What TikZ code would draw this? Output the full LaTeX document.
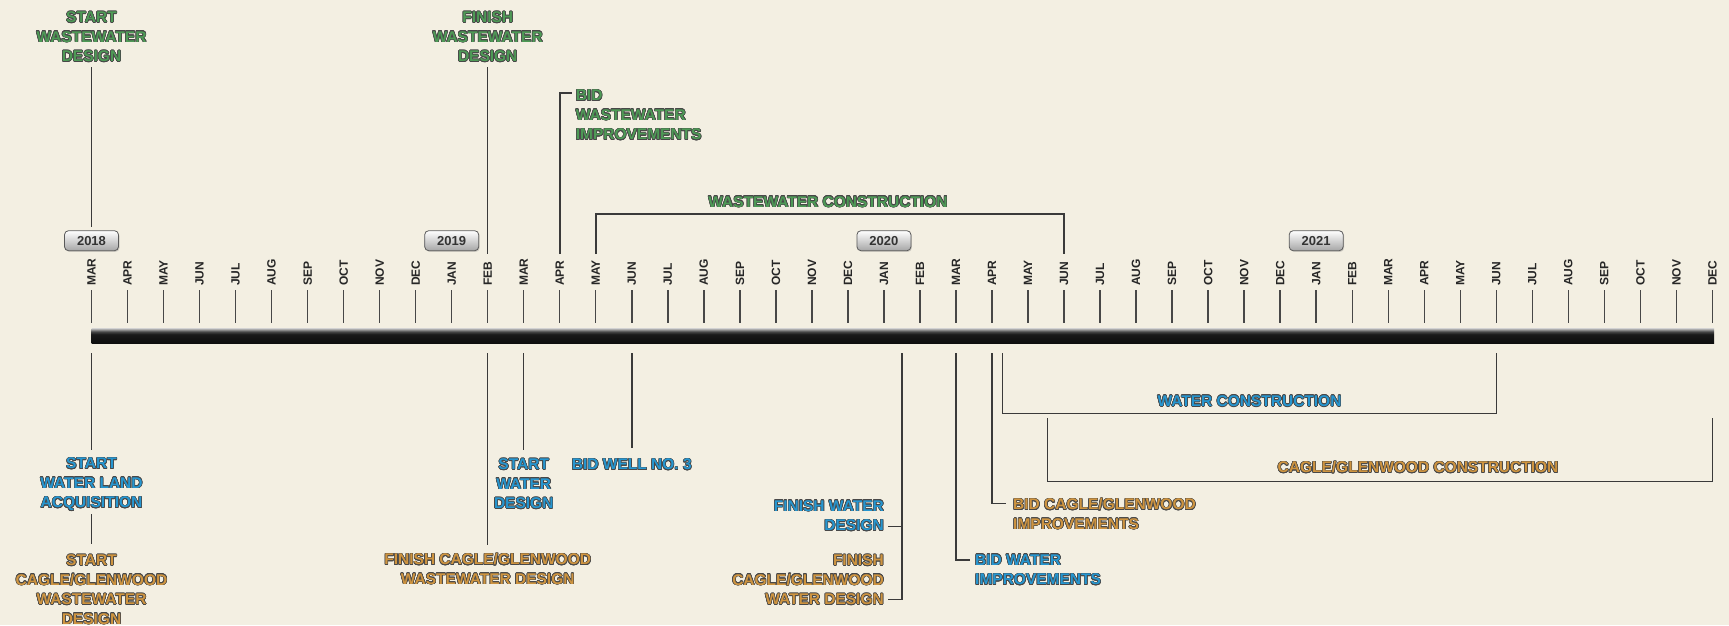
\documentclass[tikz,border=0pt]{standalone}
\usepackage{fontspec}
\setmainfont{Liberation Sans}
\usepackage[copies]{contour}
\usetikzlibrary{positioning,calc,shadows}

\definecolor{bgcream}{RGB}{243,239,226}
\definecolor{wwgreen}{RGB}{78,154,86}
\definecolor{wtblue}{RGB}{38,150,208}
\definecolor{cgorange}{RGB}{206,148,64}
\definecolor{linegray}{RGB}{58,58,58}
\definecolor{edgegray}{RGB}{72,72,72}

\contourlength{0.55pt}
\newcommand{\outl}[1]{\contour{edgegray}{#1}}

\pgfdeclareverticalshading{barshade}{100bp}{color(0bp)=(black!95); color(25bp)=(black!95); color(55bp)=(black!90); color(64bp)=(black!72); color(75bp)=(black!22); color(100bp)=(black!22)}

\begin{document}
\begin{tikzpicture}[
  x=1pt, y=-1pt,
  month/.style={rotate=90, anchor=west, inner sep=0pt, font=\fontsize{12}{13}\selectfont\bfseries, text=black!85},
  mtick/.style={draw=black!72, line width=1.4pt},
  yearbadge/.style={draw=black!65, line width=0.8pt, rounded corners=4pt, top color=white, bottom color=black!35,
    minimum width=54pt, minimum height=20pt, inner sep=0pt, font=\fontsize{13}{15}\selectfont\bfseries, text=black!80,
    drop shadow={shadow xshift=1pt, shadow yshift=-1.2pt, opacity=0.3}},
  ms/.style={inner sep=0pt, align=center, font=\fontsize{15.5}{19.5}\selectfont\bfseries},
  ww/.style={ms, text=wwgreen},
  wt/.style={ms, text=wtblue},
  cg/.style={ms, text=cgorange},
  conn/.style={draw=linegray, line width=1.5pt}
]
  \useasboundingbox (0,0) rectangle (1729,625);
  \fill[bgcream] (0,0) rectangle (1729,625);

  \foreach \mon [count=\i from 0] in {MAR,APR,MAY,JUN,JUL,AUG,SEP,OCT,NOV,DEC,
      JAN,FEB,MAR,APR,MAY,JUN,JUL,AUG,SEP,OCT,NOV,DEC,
      JAN,FEB,MAR,APR,MAY,JUN,JUL,AUG,SEP,OCT,NOV,DEC,
      JAN,FEB,MAR,APR,MAY,JUN,JUL,AUG,SEP,OCT,NOV,DEC} {
    \pgfmathsetmacro\mx{91.5+36.02*\i}
    \coordinate (m\i) at (\mx,0);
    \coordinate (u\i) at (\mx,254);
    \coordinate (d\i) at (\mx,353);
    \node[month] (ml\i) at (\mx,286) {\mon};
    \draw[mtick] ([yshift=-4pt]ml\i.west) -- ++(0,33);
  }

  \shade[shading=barshade] (m0 |- 0,328.3) rectangle (1714,343.3);

  \node[yearbadge] (yr2018) at (m0 |- 0,240.7) {2018};
  \node[yearbadge] (yr2019) at (m10 |- 0,240.7) {2019};
  \node[yearbadge] (yr2020) at (m22 |- 0,240.7) {2020};
  \node[yearbadge] (yr2021) at (m34 |- 0,240.7) {2021};

  \node[ww, anchor=north] (swwd) at (m0 |- 0,11.5) {\outl{START}\\\outl{WASTEWATER}\\\outl{DESIGN}};
  \node[ww, anchor=north] (fwwd) at (m11 |- 0,11.5) {\outl{FINISH}\\\outl{WASTEWATER}\\\outl{DESIGN}};
  \node[ww, anchor=north west, align=left] (bwwi) at (575.6,90) {\outl{BID}\\\outl{WASTEWATER}\\\outl{IMPROVEMENTS}};
  \node[ww] (wwc) at (828,202) {\outl{WASTEWATER CONSTRUCTION}};

  \draw[conn, shorten <=5pt, shorten >=3pt] (swwd) -- (yr2018);
  \draw[conn, shorten <=5pt] (fwwd) -- (u11);
  \draw[conn] (u13) |- ([xshift=-4pt,yshift=-3pt]bwwi.north west);
  \draw[conn] (u14) |- ([yshift=-6pt]wwc.south) -| (u27);

  \node[wt, anchor=north] (swla) at (m0 |- 0,457.8) {\outl{START}\\\outl{WATER LAND}\\\outl{ACQUISITION}};
  \node[cg, anchor=north] (scgwd) at (m0 |- 0,554.5) {\outl{START}\\\outl{CAGLE/GLENWOOD}\\\outl{WASTEWATER}\\\outl{DESIGN}};
  \node[cg, anchor=north] (fcgww) at (m11 |- 0,553.5) {\outl{FINISH CAGLE/GLENWOOD}\\\outl{WASTEWATER DESIGN}};
  \node[wt, anchor=north] (swd) at (m12 |- 0,458.5) {\outl{START}\\\outl{WATER}\\\outl{DESIGN}};
  \node[wt, anchor=north] (bwn3) at (m15 |- 0,458.8) {\outl{BID WELL NO. 3}};

  \draw[conn, shorten >=7.8pt] (d0) -- (swla);
  \draw[conn, shorten <=2.5pt, shorten >=11pt] (swla) -- (scgwd);
  \draw[conn, shorten >=8.5pt] (d11) -- (fcgww);
  \draw[conn, shorten >=8.5pt] (d12) -- (swd);
  \draw[conn, shorten >=10.8pt] (d15) -- (bwn3);

  \coordinate (jan20) at ($(d22)!0.5!(d23)$);
  \node[wt, anchor=north east, align=right] (fwd) at (884,500.2) {\outl{FINISH WATER}\\\outl{DESIGN}};
  \node[cg, anchor=north east, align=right] (fcgwd) at (884,554.5) {\outl{FINISH}\\\outl{CAGLE/GLENWOOD}\\\outl{WATER DESIGN}};
  \draw[conn] (jan20) |- ([xshift=4pt,yshift=5pt]fwd.south east);
  \draw[conn] (jan20) |- ([xshift=4pt,yshift=6pt]fcgwd.south east);

  \node[wt, anchor=north west, align=left] (bwi) at (975,554.5) {\outl{BID WATER}\\\outl{IMPROVEMENTS}};
  \draw[conn] (d24) |- ([xshift=-5.5pt,yshift=-5.5pt]bwi.north west);
  \node[cg, anchor=north west, align=left] (bcgi) at (1013,498.5) {\outl{BID CAGLE/GLENWOOD}\\\outl{IMPROVEMENTS}};
  \draw[conn] (d25) |- ([xshift=-7pt,yshift=-5pt]bcgi.north west);

  \coordinate (wcs) at (1002.7,353);
  \node[wt] (wtc) at (1249.5,401.4) {\outl{WATER CONSTRUCTION}};
  \draw[conn] (wcs) |- ([yshift=-6pt]wtc.south) -| (d39);

  \coordinate (cgs) at (1047.3,418.3);
  \coordinate (cge) at (m45 |- 0,418.3);
  \node[cg] (cgc) at (1418,467.5) {\outl{CAGLE/GLENWOOD CONSTRUCTION}};
  \draw[conn] (cgs) |- ([yshift=-7.5pt]cgc.south) -| (cge);
\end{tikzpicture}
\end{document}
